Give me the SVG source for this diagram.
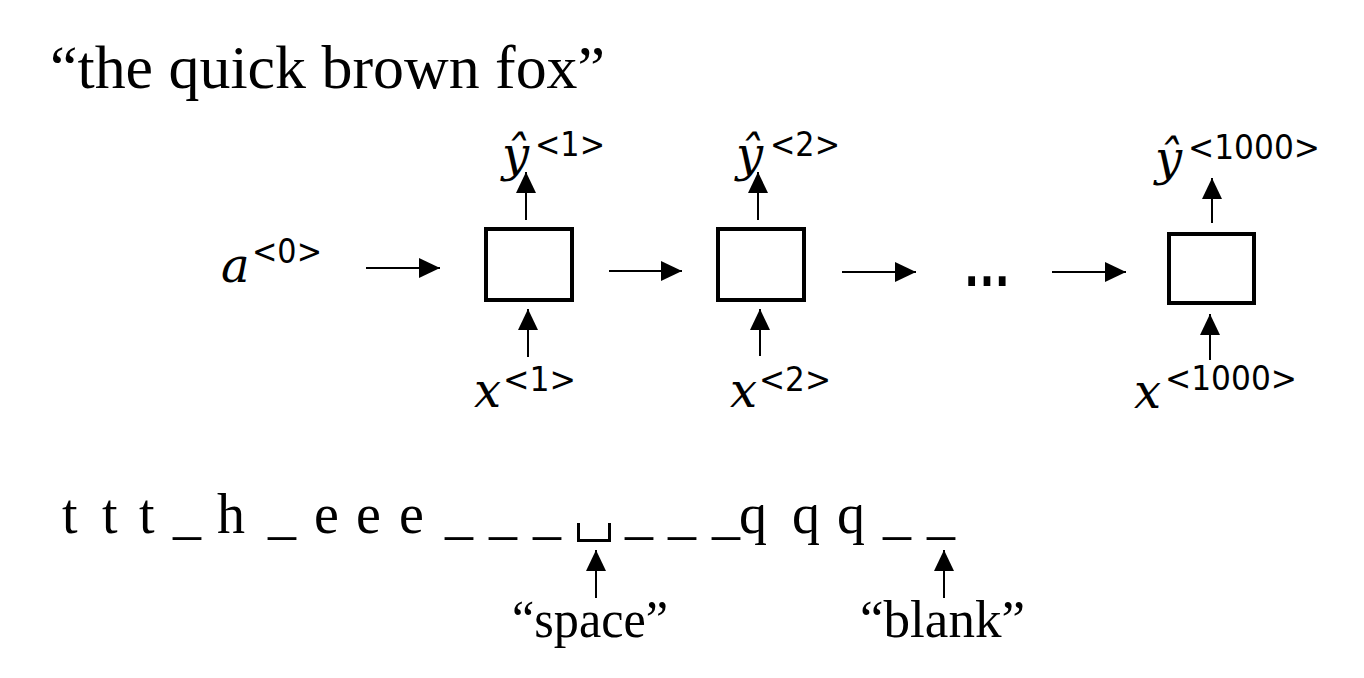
<svg xmlns="http://www.w3.org/2000/svg" width="1364" height="678" viewBox="0 0 1364 678">
<defs>
<style>
.serif{font-family:"Liberation Serif","Times New Roman",serif;fill:#000}
.mi{font-family:"DejaVu Serif",serif;font-style:italic;font-size:48px;fill:#000}
.sup{font-family:"DejaVu Sans",sans-serif;font-size:33px;fill:#000}
.box{fill:#fff;stroke:#000;stroke-width:4}
.con{stroke:#000;stroke-width:2;fill:none;marker-end:url(#ah)}
</style>
<marker id="ah" markerUnits="userSpaceOnUse" markerWidth="22" markerHeight="20" refX="21" refY="10" orient="auto">
<path d="M0,0 L21,10 L0,20 Z" fill="#000"/>
</marker>
</defs>
<rect width="1364" height="678" fill="#fff"/>

<g id="title"><text class="serif" x="50" y="88" font-size="61" textLength="555" lengthAdjust="spacingAndGlyphs">“the quick brown fox”</text></g>

<g id="connectors">
<line class="con" x1="366" y1="268" x2="440" y2="268"/>
<line class="con" x1="609" y1="271" x2="682" y2="271"/>
<line class="con" x1="842" y1="272" x2="916" y2="272"/>
<line class="con" x1="1052" y1="272" x2="1126" y2="272"/>
<line class="con" x1="526" y1="220" x2="526" y2="172"/>
<line class="con" x1="528" y1="357" x2="528" y2="309"/>
<line class="con" x1="758" y1="220" x2="758" y2="172"/>
<line class="con" x1="760" y1="356" x2="760" y2="309"/>
<line class="con" x1="1212" y1="223" x2="1212" y2="178"/>
<line class="con" x1="1210" y1="360" x2="1210" y2="314"/>
<line class="con" x1="596" y1="598" x2="596" y2="550"/>
<line class="con" x1="944" y1="598" x2="944" y2="550"/>
</g>

<g id="node-a0"><text x="221" y="282"><tspan class="mi">a</tspan><tspan class="sup" x="252" y="263" textLength="70" lengthAdjust="spacingAndGlyphs">&lt;0&gt;</tspan></text></g>

<g id="node-rnn1"><rect class="box" x="486" y="229" width="86" height="71"/></g>
<g id="node-rnn2"><rect class="box" x="718" y="229" width="86" height="71"/></g>
<g id="node-ellipsis"><text x="963" y="286" font-family="Liberation Sans, sans-serif" font-weight="bold" font-size="64" textLength="48" lengthAdjust="spacingAndGlyphs">…</text></g>
<g id="node-rnn1000"><rect class="box" x="1169" y="234" width="85" height="69"/></g>

<g id="node-y1"><text x="502" y="171"><tspan class="mi">ŷ</tspan><tspan class="sup" x="535" y="156" textLength="70" lengthAdjust="spacingAndGlyphs">&lt;1&gt;</tspan></text></g>
<g id="node-y2"><text x="736" y="171"><tspan class="mi">ŷ</tspan><tspan class="sup" x="770" y="156" textLength="70" lengthAdjust="spacingAndGlyphs">&lt;2&gt;</tspan></text></g>
<g id="node-y1000"><text x="1155" y="175"><tspan class="mi">ŷ</tspan><tspan class="sup" x="1188" y="159" textLength="132" lengthAdjust="spacingAndGlyphs">&lt;1000&gt;</tspan></text></g>

<g id="node-x1"><text x="474" y="407"><tspan class="mi">x</tspan><tspan class="sup" x="503" y="391" textLength="73" lengthAdjust="spacingAndGlyphs">&lt;1&gt;</tspan></text></g>
<g id="node-x2"><text x="730" y="407"><tspan class="mi">x</tspan><tspan class="sup" x="759" y="391" textLength="72" lengthAdjust="spacingAndGlyphs">&lt;2&gt;</tspan></text></g>
<g id="node-x1000"><text x="1134" y="408"><tspan class="mi">x</tspan><tspan class="sup" x="1165" y="390" textLength="132" lengthAdjust="spacingAndGlyphs">&lt;1000&gt;</tspan></text></g>

<g id="sequence">
<text class="serif" font-size="56" y="533" x="62 102 139 173 217 268 314 356 399 445 489 533 625 668 712 739 792 837 883 927">ttt_h_eee______qqq__</text>
<path d="M578.5,523 V540.5 H609.5 V523" fill="none" stroke="#000" stroke-width="3"/>
</g>

<g id="label-space"><text class="serif" x="512" y="637" font-size="52" textLength="156" lengthAdjust="spacingAndGlyphs">“space”</text></g>
<g id="label-blank"><text class="serif" x="860" y="637" font-size="53" textLength="165" lengthAdjust="spacingAndGlyphs">“blank”</text></g>
</svg>
